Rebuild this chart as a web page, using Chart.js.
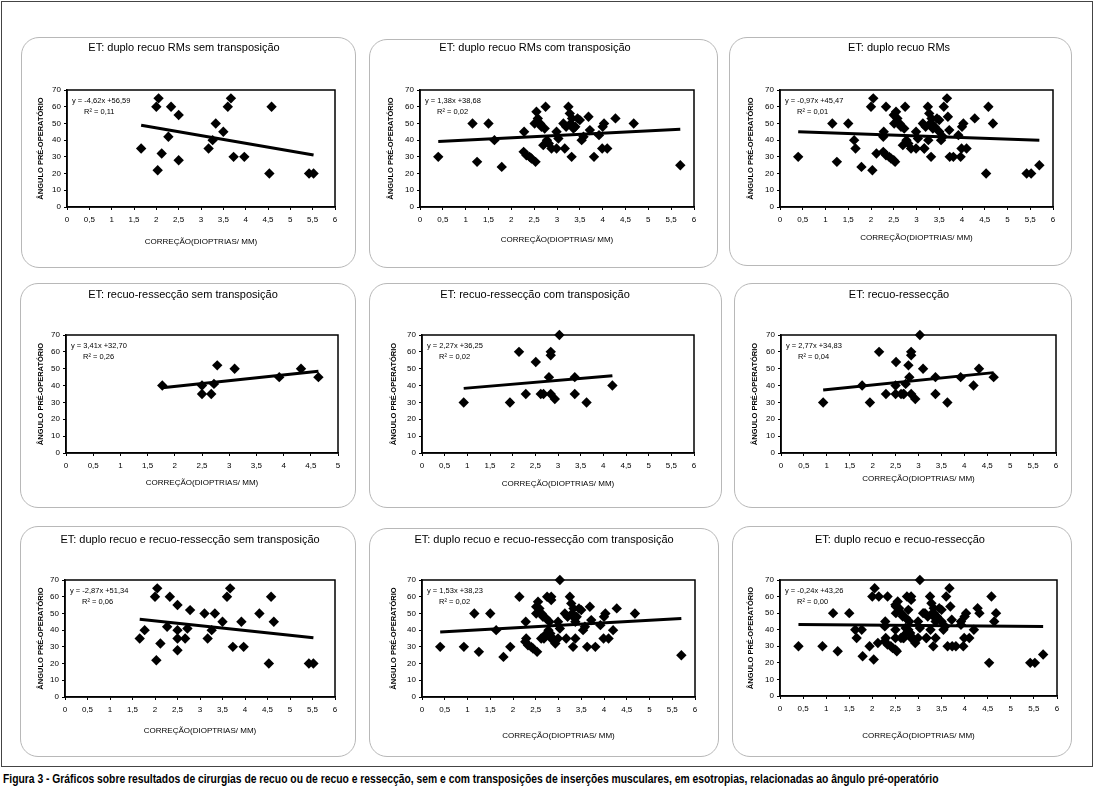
<!DOCTYPE html>
<html>
<head>
<meta charset="utf-8">
<script src="https://cdn.jsdelivr.net/npm/chart.js@4.4.1/dist/chart.umd.min.js"></script>
<style>
    html, body { margin: 0; padding: 0; background: #fff; }
    body { width: 1097px; height: 787px; position: relative; overflow: hidden; font-family: "Liberation Sans", Arial, sans-serif; }
    #frame { position: absolute; left: 1px; top: 1px; width: 1090px; height: 764px; border: 1px solid #444; }
    .panel { position: absolute; border: 1px solid #b8b8b8; border-radius: 18px; box-sizing: border-box; }
    canvas.chart { position: absolute; }
    #caption { position: absolute; left: 3px; top: 772px; font-size: 12px; line-height: 14px; font-weight: bold; white-space: nowrap; color: #000;
               transform: scaleX(0.86); transform-origin: 0 0; }
</style>
</head>
<body>
<div id="frame"></div>
<div id="caption">Figura 3 - Gráficos sobre resultados de cirurgias de recuo ou de recuo e ressecção, sem e com transposições de inserções musculares, em esotropias, relacionadas ao ângulo pré-operatório</div>
<script>
(function (Chart) {
    "use strict";

    // duplo recuo RMs sem transposição
    var rmSemX = [1.66, 2.00, 2.05, 2.03, 2.12, 2.27, 2.33, 2.50, 2.50, 3.17, 3.26, 3.33, 3.50, 3.60, 3.67, 3.73, 3.97, 4.58, 4.53, 5.42, 5.52];
    var rmSemY = [35, 60, 65, 22, 32, 42, 60, 55, 28, 35, 40, 50, 45, 60, 65, 30, 30, 60, 20, 20, 20];

    // duplo recuo RMs com transposição
    var rmComX = [0.40, 1.15, 1.25, 1.50, 1.63, 1.79, 2.28, 2.27, 2.33, 2.40, 2.44, 2.53, 2.51, 2.55, 2.58, 2.63, 2.66,
                  2.73, 2.70, 2.75, 2.78, 2.82, 2.88, 2.99, 2.99, 3.03, 3.14, 3.17, 3.20, 3.25, 3.28, 3.30, 3.33, 3.32,
                  3.36, 3.40, 3.45, 3.50, 3.54, 3.58, 3.69, 3.72, 3.81, 3.92, 4.00, 4.03, 3.99, 4.10, 4.28, 4.68, 5.70];
    var rmComY = [30, 50, 27, 50, 40, 24, 45, 33, 31, 30, 29, 27, 50, 57, 53, 50, 48,
                  47, 37, 60, 40, 38, 35, 35, 45, 41, 50, 35, 48, 60, 56, 50, 53, 30,
                  47, 48, 53, 52, 40, 42, 54, 46, 30, 43, 48, 50, 35, 35, 53, 50, 25];

    // recuo-ressecção sem transposição
    var rrSemX = [1.77, 2.50, 2.50, 2.67, 2.72, 2.78, 3.10, 3.92, 4.32, 4.64];
    var rrSemY = [40, 40, 35, 35, 41, 52, 50, 45, 50, 45];

    // recuo-ressecção com transposição
    var rrComX = [0.92, 1.94, 2.14, 2.29, 2.51, 2.62, 2.68, 2.80, 2.84, 2.84, 2.84, 2.93, 3.03, 3.37, 3.37, 3.63, 4.20];
    var rrComY = [30, 30, 60, 35, 54, 35, 35, 45, 35, 60, 58, 32, 70, 45, 35, 30, 40];

    var panelTitles = [
        "ET: duplo recuo RMs sem transposição",
        "ET: duplo recuo RMs com transposição",
        "ET: duplo recuo RMs",
        "ET: recuo-ressecção sem transposição",
        "ET: recuo-ressecção com transposição",
        "ET: recuo-ressecção",
        "ET: duplo recuo e recuo-ressecção sem transposição",
        "ET: duplo recuo e recuo-ressecção com transposição",
        "ET: duplo recuo e recuo-ressecção"
    ];

    var groups = {
        rmSem: [rmSemX, rmSemY], rmCom: [rmComX, rmComY],
        rrSem: [rrSemX, rrSemY], rrCom: [rrComX, rrComY]
    };
    var panelGroups = [
        ["rmSem"], ["rmCom"], ["rmSem", "rmCom"],
        ["rrSem"], ["rrCom"], ["rrSem", "rrCom"],
        ["rmSem", "rrSem"], ["rmCom", "rrCom"], ["rmSem", "rmCom", "rrSem", "rrCom"]
    ];

    var slopes = [-4.62, 1.38, -0.97, 3.41, 2.27, 2.77, -2.87, 1.53, -0.24];
    var intercepts = [56.59, 38.68, 45.47, 32.70, 36.25, 34.83, 51.34, 38.23, 43.26];
    var eqLabels = ["y = -4,62x +56,59", "y = 1,38x +38,68", "y = -0,97x +45,47",
                    "y = 3,41x +32,70", "y = 2,27x +36,25", "y = 2,77x +34,83",
                    "y = -2,87x +51,34", "y = 1,53x +38,23", "y = -0,24x +43,26"];
    var r2Labels = ["R² = 0,11", "R² = 0,02", "R² = 0,01", "R² = 0,26", "R² = 0,02",
                    "R² = 0,04", "R² = 0,06", "R² = 0,02", "R² = 0,00"];
    var xMaxes = [6, 6, 6, 5, 6, 6, 6, 6, 6];
    var yMax = 70;
    var xAxisTitle = "CORREÇÃO(DIOPTRIAS/ MM)";
    var yAxisTitle = "ÂNGULO PRÉ-OPERATÓRIO";

    // where each box / plot area sits on the page
    var panelLayouts = [
        { box: [21, 37, 335, 231], plot: [67, 90, 335, 207], titleX: 184, titleY: 48, xTitleY: 242, yTitleX: 41 },
        { box: [369, 39, 349, 229], plot: [420, 90, 694, 207], titleX: 535, titleY: 48, xTitleY: 240, yTitleX: 391 },
        { box: [729, 37, 343, 229], plot: [780, 90, 1053, 207], titleX: 899, titleY: 48, xTitleY: 238, yTitleX: 751 },
        { box: [20, 283, 336, 225], plot: [66, 335, 338, 453], titleX: 183, titleY: 295, xTitleY: 483, yTitleX: 41 },
        { box: [369, 283, 353, 225], plot: [422, 335, 694, 453], titleX: 535, titleY: 295, xTitleY: 484, yTitleX: 394 },
        { box: [734, 283, 338, 225], plot: [781, 335, 1056, 453], titleX: 899, titleY: 295, xTitleY: 479, yTitleX: 755 },
        { box: [20, 526, 336, 231], plot: [65, 580, 335, 697], titleX: 190, titleY: 540, xTitleY: 731, yTitleX: 41 },
        { box: [369, 528, 350, 229], plot: [422, 580, 695, 697], titleX: 544, titleY: 540, xTitleY: 736, yTitleX: 394 },
        { box: [732, 526, 340, 231], plot: [780, 580, 1057, 696], titleX: 900, titleY: 540, xTitleY: 736, yTitleX: 751 }
    ];

    var FONT = '"Liberation Sans", Arial, sans-serif';
    Chart.defaults.font.family = FONT;
    Chart.defaults.color = "#000";

    var plotFrame = {
        id: "plotFrame",
        beforeDatasetsDraw: function (chart) {
            var a = chart.chartArea, ctx = chart.ctx;
            ctx.save();
            ctx.strokeStyle = "#000";
            ctx.lineWidth = 1.5;
            ctx.strokeRect(a.left, a.top, a.right - a.left, a.bottom - a.top);
            ctx.restore();
        }
    };

    // panel heading, centred where the original puts it (not on the canvas middle)
    var panelTitle = {
        id: "panelTitle",
        afterDraw: function (chart, args, opts) {
            var ctx = chart.ctx;
            ctx.save();
            ctx.fillStyle = "#000";
            ctx.font = "11px " + FONT;
            ctx.textAlign = "center";
            ctx.textBaseline = "middle";
            ctx.fillText(opts.text, opts.x, opts.y);
            ctx.restore();
        }
    };

    // the regression text in the top-left corner of the plot
    var trendLabel = {
        id: "trendLabel",
        afterDatasetsDraw: function (chart, args, opts) {
            var a = chart.chartArea, ctx = chart.ctx;
            ctx.save();
            ctx.fillStyle = "#000";
            ctx.font = "7.5px " + FONT;
            ctx.textBaseline = "middle";
            ctx.fillText(opts.eq, a.left + 5, a.top + 11);
            ctx.fillText(opts.r2, a.left + 17, a.top + 22);
            ctx.restore();
        }
    };

    function collectPoints (names) {
        var points = [];
        names.forEach(function (name) {
            var xs = groups[name][0], ys = groups[name][1];
            xs.forEach(function (x, i) {
                points.push({ x: x, y: ys[i] });
            });
        });
        return points;
    }

    function buildPanel (i) {
        var lay = panelLayouts[i],
            bx = lay.box[0], by = lay.box[1], bw = lay.box[2], bh = lay.box[3],
            left = lay.plot[0] - bx, top = lay.plot[1] - by,
            right = lay.plot[2] - bx, bottom = lay.plot[3] - by,
            xTitleY = lay.xTitleY - by, yTitleX = lay.yTitleX - bx,
            points = collectPoints(panelGroups[i]),
            xs = points.map(function (p) { return p.x; }),
            lo = Math.min.apply(null, xs), hi = Math.max.apply(null, xs),
            box, canvas;

        box = document.createElement("div");
        box.className = "panel";
        box.style.left = bx + "px";
        box.style.top = by + "px";
        box.style.width = bw + "px";
        box.style.height = bh + "px";
        document.body.appendChild(box);

        canvas = document.createElement("canvas");
        canvas.className = "chart";
        canvas.width = bw;
        canvas.height = bh;
        canvas.style.left = bx + "px";
        canvas.style.top = by + "px";
        canvas.style.width = bw + "px";
        canvas.style.height = bh + "px";
        document.body.appendChild(canvas);

        return new Chart(canvas, {
            type: "scatter",
            data: {
                datasets: [{
                    data: points,
                    pointStyle: "rectRot",
                    pointRadius: 5.2,
                    backgroundColor: "#000",
                    borderColor: "#000",
                    borderWidth: 0,
                    clip: false
                }, {
                    data: [
                        { x: lo, y: slopes[i] * lo + intercepts[i] },
                        { x: hi, y: slopes[i] * hi + intercepts[i] }
                    ],
                    showLine: true,
                    pointRadius: 0,
                    borderColor: "#000",
                    borderWidth: 3,
                    clip: false
                }]
            },
            options: {
                responsive: false,
                animation: false,
                events: [],
                layout: { padding: { left: 0, top: top, right: bw - right, bottom: 0 } },
                plugins: {
                    legend: { display: false },
                    tooltip: { enabled: false },
                    title: { display: false },
                    panelTitle: { text: panelTitles[i], x: lay.titleX - bx, y: lay.titleY - by },
                    trendLabel: { eq: eqLabels[i], r2: r2Labels[i] }
                },
                scales: {
                    x: {
                        type: "linear",
                        min: 0,
                        max: xMaxes[i],
                        afterFit: function (s) {
                            s.height = bh - bottom;
                            s.paddingLeft = 0;
                            s.paddingRight = 0;
                        },
                        ticks: {
                            stepSize: 0.5,
                            autoSkip: false,
                            maxRotation: 0,
                            padding: 5,
                            color: "#000",
                            font: { size: 8 },
                            callback: function (v) { return String(v).replace(".", ","); }
                        },
                        grid: { display: true, drawOnChartArea: false, drawTicks: true, tickLength: 3, color: "#000" },
                        border: { display: true, color: "#000", width: 1.5 },
                        title: {
                            display: true,
                            text: xAxisTitle,
                            color: "#000",
                            font: { size: 8 },
                            padding: { top: 0, bottom: bh - xTitleY - 4.8 }
                        }
                    },
                    y: {
                        min: 0,
                        max: yMax,
                        afterFit: function (s) { s.width = left; s.paddingTop = 0; s.paddingBottom = 0; },
                        ticks: { stepSize: 10, padding: 3, color: "#000", font: { size: 8 } },
                        grid: { display: true, drawOnChartArea: false, drawTicks: true, tickLength: 3, color: "#000" },
                        border: { display: true, color: "#000", width: 1.5 },
                        title: {
                            display: true,
                            text: yAxisTitle,
                            color: "#000",
                            font: { size: 7.5, weight: "bold" },
                            padding: { top: yTitleX - 4.5, bottom: 0 }
                        }
                    }
                }
            },
            plugins: [plotFrame, panelTitle, trendLabel]
        });
    }

    panelLayouts.forEach(function (lay, i) {
        buildPanel(i);
    });
})(Chart);
</script>
</body>
</html>
